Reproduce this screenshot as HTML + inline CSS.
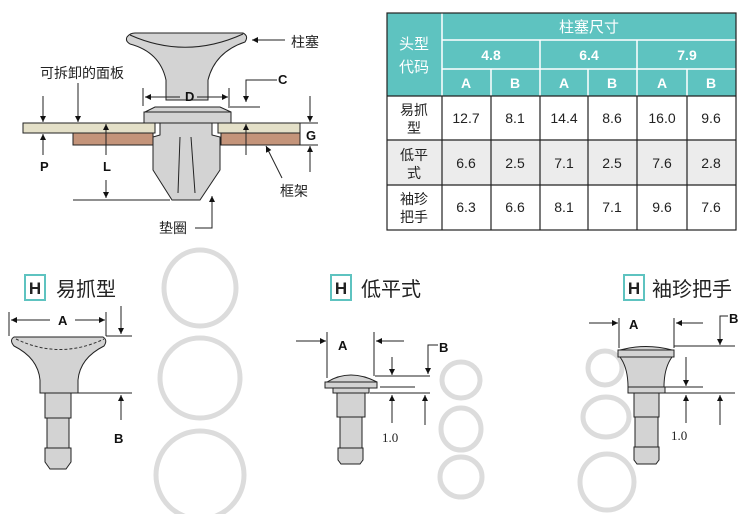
<!DOCTYPE html>
<html><head><meta charset="utf-8"><style>
body{margin:0;background:#fff}
svg{display:block}
.cn{font-family:"Liberation Sans","Noto Sans CJK SC",sans-serif}
.lb{font-family:"Liberation Sans Narrow","Liberation Sans",sans-serif;font-weight:bold}
</style></head><body>
<svg width="750" height="514" viewBox="0 0 750 514" xmlns="http://www.w3.org/2000/svg">
<defs>
<marker id="ar" viewBox="0 0 10 10" refX="10" refY="5" markerWidth="8" markerHeight="6" orient="auto-start-reverse" markerUnits="userSpaceOnUse"><path d="M0,0L10,5L0,10z" fill="#111"/></marker>
</defs>
<g stroke="#222" stroke-width="1" fill="none">
<!-- top diagram -->
<path d="M127,37 Q130,33 135,33 L243,33 Q249,36 245,42 Q215,52 208,80 L208,100 L166,100 L166,80 Q160,52 130,44 Q125,41 127,37Z" fill="#d3d3d3"/>
<path d="M130,35 Q186,60 243,34" fill="none"/>
<path d="M145,112 L155,107 L220,107 L231,112Z" fill="#d3d3d3"/>
<rect x="144" y="112" width="87" height="11" fill="#d3d3d3"/>
<rect x="23" y="123" width="132" height="10" fill="#e4e0c8"/>
<rect x="218" y="123" width="82" height="10" fill="#e4e0c8"/>
<rect x="73" y="133" width="80" height="12" fill="#c4947a"/>
<rect x="221" y="133" width="79" height="12" fill="#c4947a"/>
<path d="M160,123 L212,123 L212,135 L220,137 L220,170 L200,200 L172,200 L153,170 L153,137 L160,135Z" fill="#d3d3d3"/>
<path d="M180,137 L178,193 M191,137 L195,193"/>
<path d="M285,40 L252,40" marker-end="url(#ar)"/>
<path d="M143,88 L143,106 M229,88 L229,106"/>
<path d="M180,97 L145,97" marker-end="url(#ar)"/><path d="M197,97 L228,97" marker-end="url(#ar)"/>
<path d="M277,80 L246,80 L246,102" marker-end="url(#ar)"/>
<path d="M228,107 L260,107"/>
<path d="M43,96 L43,122" marker-end="url(#ar)"/><path d="M43,155 L43,134" marker-end="url(#ar)"/>
<path d="M78,83 L78,122" marker-end="url(#ar)"/>
<path d="M106,155 L106,124" marker-end="url(#ar)"/><path d="M106,180 L106,198" marker-end="url(#ar)"/>
<path d="M73,200 L170,200"/>
<path d="M246,155 L246,124" marker-end="url(#ar)"/>
<path d="M310,96 L310,122" marker-end="url(#ar)"/><path d="M310,172 L310,146" marker-end="url(#ar)"/>
<path d="M300,123 L318,123 M300,145 L318,145"/>
<path d="M282,178 L266,146" marker-end="url(#ar)"/>
<path d="M195,228 L212,228 L212,196" marker-end="url(#ar)"/>
</g>
<g class="cn" font-size="14" fill="#222">
<text x="291" y="47">柱塞</text><text x="40" y="78">可拆卸的面板</text>
<text x="280" y="196">框架</text><text x="159" y="233">垫圈</text>
</g>
<g class="lb" font-size="13" fill="#111">
<text x="185" y="101">D</text><text x="278" y="84">C</text><text x="306" y="140">G</text>
<text x="40" y="171">P</text><text x="103" y="171">L</text>
</g>

<!-- table -->
<g>
<rect x="387" y="13" width="349" height="83" fill="#5ec3c0"/>
<rect x="442" y="96" width="294" height="44" fill="#fff"/>
<rect x="442" y="140" width="294" height="45" fill="#ececec"/>
<rect x="442" y="185" width="294" height="45" fill="#fff"/>
<rect x="387" y="96" width="55" height="134" fill="#fff"/>
<rect x="387" y="140" width="55" height="45" fill="#ececec"/>
<g stroke="#fff" stroke-width="1.5">
<path d="M442,40H736M442,69H736M442,13V96M540,40V96M637,40V96M491,69V96M588,69V96M687,69V96"/>
</g>
<g stroke="#222" stroke-width="1.2" fill="none">
<rect x="387" y="13" width="349" height="217"/>
<path d="M387,96H736M387,140H736M387,185H736M442,96V230M491,96V230M540,96V230M588,96V230M637,96V230M687,96V230"/>
</g>
<g class="cn" fill="#fff" font-size="15" text-anchor="middle">
<text x="589" y="32">柱塞尺寸</text>
<text x="414" y="49">头型</text><text x="414" y="72">代码</text>
</g>
<g class="lb" fill="#fff" font-size="14" text-anchor="middle">
<text x="491" y="60">4.8</text><text x="589" y="60">6.4</text><text x="687" y="60">7.9</text>
<text x="466" y="88">A</text><text x="515" y="88">B</text><text x="564" y="88">A</text><text x="612" y="88">B</text><text x="662" y="88">A</text><text x="711" y="88">B</text>
</g>
<g class="cn" fill="#222" font-size="14" text-anchor="middle">
<text x="414" y="115">易抓</text><text x="414" y="133">型</text>
<text x="414" y="160">低平</text><text x="414" y="178">式</text>
<text x="414" y="204">袖珍</text><text x="414" y="222">把手</text>
</g>
<g font-family="Liberation Sans Narrow,Liberation Sans,sans-serif" fill="#222" font-size="14" text-anchor="middle">
<text x="466" y="123">12.7</text><text x="515" y="123">8.1</text><text x="564" y="123">14.4</text><text x="612" y="123">8.6</text><text x="662" y="123">16.0</text><text x="711" y="123">9.6</text>
<text x="466" y="168">6.6</text><text x="515" y="168">2.5</text><text x="564" y="168">7.1</text><text x="612" y="168">2.5</text><text x="662" y="168">7.6</text><text x="711" y="168">2.8</text>
<text x="466" y="212">6.3</text><text x="515" y="212">6.6</text><text x="564" y="212">8.1</text><text x="612" y="212">7.1</text><text x="662" y="212">9.6</text><text x="711" y="212">7.6</text>
</g>
</g>

<!-- rings -->
<g fill="none" stroke="#dcdcdc" stroke-width="5">
<ellipse cx="200" cy="288" rx="36" ry="38"/>
<ellipse cx="200" cy="378" rx="40" ry="40"/>
<ellipse cx="200" cy="475" rx="44" ry="44"/>
<ellipse cx="461" cy="380" rx="19" ry="18"/>
<ellipse cx="461" cy="429" rx="20" ry="21"/>
<ellipse cx="461" cy="477" rx="21" ry="20"/>
<ellipse cx="605" cy="368" rx="17" ry="17"/>
<ellipse cx="606" cy="417" rx="23" ry="20"/>
<ellipse cx="607" cy="482" rx="27" ry="28"/>
</g>

<!-- titles -->
<g fill="#fff" stroke="#5ec3c0" stroke-width="2">
<rect x="25" y="275" width="20" height="25"/><rect x="331" y="275" width="20" height="25"/><rect x="624" y="275" width="20" height="25"/>
</g>
<g class="lb" font-size="17" fill="#222" text-anchor="middle">
<text x="35" y="294">H</text><text x="341" y="294">H</text><text x="634" y="294">H</text>
</g>
<g class="cn" font-size="20" fill="#222">
<text x="56" y="296">易抓型</text><text x="361" y="296">低平式</text><text x="652" y="296">袖珍把手</text>
</g>

<!-- pins -->
<g stroke="#222" stroke-width="1" fill="#d3d3d3">
<path d="M14,337 L103,337 Q108,340 104,346 Q80,358 78,380 L78,393 L40,393 L40,380 Q38,358 14,346 Q9,340 14,337Z"/>
<path d="M45,393H71V418H45Z"/><path d="M47,418H69V448H47Z"/><path d="M45,448H71V462L66,469H50L45,462Z"/>
<path d="M327,382 Q350,368 377,382Z"/><rect x="325" y="382" width="52" height="6"/>
<rect x="333" y="388" width="36" height="5"/><rect x="337" y="393" width="28" height="24"/><rect x="340" y="417" width="22" height="31"/>
<path d="M338,448H363V460L360,464H341L338,460Z"/>
<path d="M620,350 Q646,343 672,350Z"/><rect x="618" y="350" width="56" height="7"/>
<path d="M620,357 L672,357 Q664,368 664,387 L628,387 Q628,368 620,357Z"/>
<rect x="628" y="387" width="37" height="6"/><rect x="634" y="393" width="25" height="24"/><rect x="635" y="417" width="23" height="30"/>
<path d="M634,447H659V460L656,464H637L634,460Z"/>
</g>
<path d="M16,339 Q60,360 104,339" stroke="#333" stroke-dasharray="3,2" fill="none"/>
<g stroke="#222" stroke-width="1" fill="none">
<path d="M9,312V336M106,312V336"/>
<path d="M50,320H11" marker-end="url(#ar)"/><path d="M75,320H105" marker-end="url(#ar)"/>
<path d="M121,306V334" marker-end="url(#ar)"/><path d="M106,336H132M78,393H132"/>
<path d="M121,420V395" marker-end="url(#ar)"/>
<path d="M327,332V378M374,332V376"/>
<path d="M296,341H326" marker-end="url(#ar)"/><path d="M404,341H376" marker-end="url(#ar)"/>
<path d="M438,345H428V374" marker-end="url(#ar)"/>
<path d="M375,376H430M380,387H415M370,393H430"/>
<path d="M392,357V375" marker-end="url(#ar)"/><path d="M392,423V395" marker-end="url(#ar)"/><path d="M425,425V395" marker-end="url(#ar)"/>
<path d="M619,318V348M674,318V348"/>
<path d="M589,323H618" marker-end="url(#ar)"/><path d="M703,323H676" marker-end="url(#ar)"/>
<path d="M728,316H720V345" marker-end="url(#ar)"/>
<path d="M674,346H735M664,387H703M665,393H735"/>
<path d="M686,357V386" marker-end="url(#ar)"/><path d="M686,423V395" marker-end="url(#ar)"/><path d="M720,425V395" marker-end="url(#ar)"/>
</g>
<g class="lb" font-size="13" fill="#111">
<text x="58" y="325">A</text><text x="114" y="443">B</text>
<text x="338" y="350">A</text><text x="439" y="352">B</text>
<text x="629" y="329">A</text><text x="729" y="323">B</text>
</g>
<g font-family="Liberation Serif,serif" font-size="13" fill="#222">
<text x="382" y="442">1.0</text><text x="671" y="440">1.0</text>
</g>
</svg>
</body></html>
